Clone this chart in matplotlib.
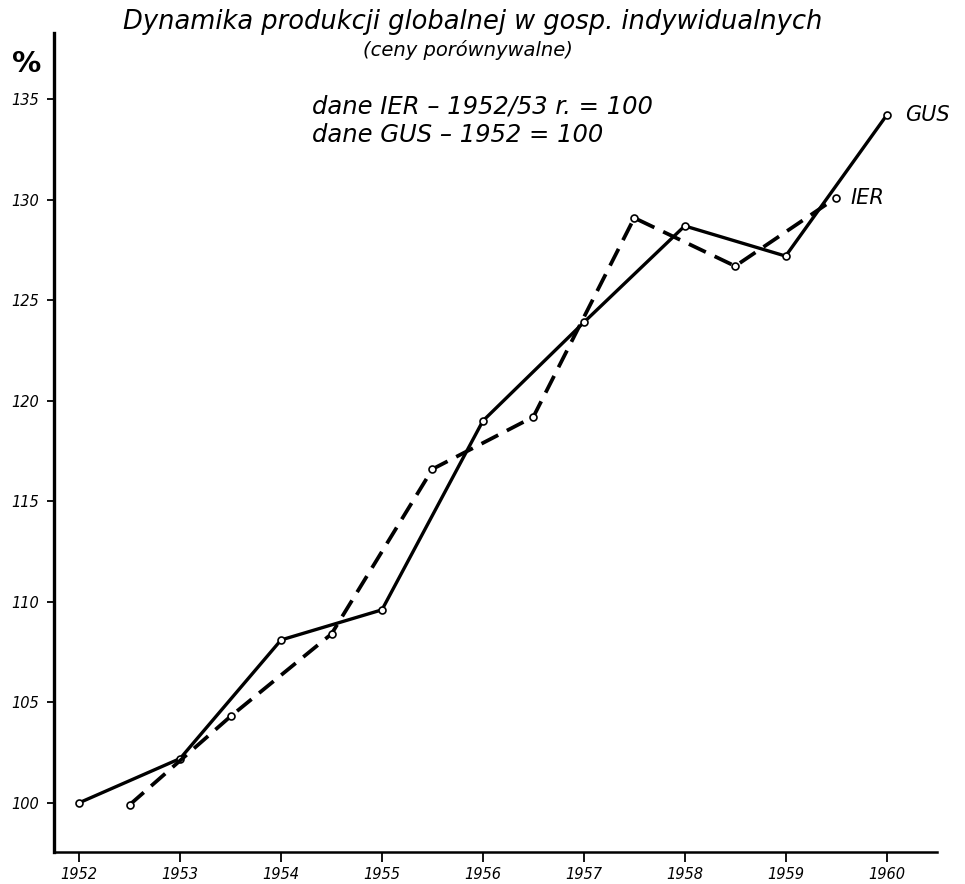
import matplotlib
matplotlib.use("Agg")
import matplotlib.pyplot as plt

# GUS: annual points, IER: mid-year points
gus_years = [1952, 1953, 1954, 1955, 1956, 1957, 1958, 1959, 1960]
gus_values = [100.0, 102.2, 108.1, 109.6, 119.0, 123.9, 128.7, 127.2, 134.2]

ier_years = [1952.5, 1953.5, 1954.5, 1955.5, 1956.5, 1957.5, 1958.5, 1959.5]
ier_values = [99.9, 104.3, 108.4, 116.6, 119.2, 129.1, 126.7, 130.1]

x_ticks = [1952, 1953, 1954, 1955, 1956, 1957, 1958, 1959, 1960]
y_ticks = [100, 105, 110, 115, 120, 125, 130, 135]

title = "Dynamika produkcji globalnej w gosp. indywidualnych"
subtitle = "(ceny porównywalne)"
note_ier = "dane IER – 1952/53 r. = 100"
note_gus = "dane GUS – 1952 = 100"

plt.rcParams['font.family'] = ['DejaVu Sans']

W, H = 965, 884
fig = plt.figure(figsize=(W / 100, H / 100), dpi=100)
ax = fig.add_axes([54 / W, (H - 852) / H, (937 - 54) / W, (852 - 33) / H])

ax.plot(gus_years, gus_values, color='black', lw=2.4, solid_capstyle='round',
        marker='o', ms=5, mfc='white', mec='black', mew=1.2, zorder=3)
ax.plot(ier_years, ier_values, color='black', lw=2.7, dashes=(5, 2.6),
        marker='o', ms=5, mfc='white', mec='black', mew=1.2, zorder=3)

ax.set_xlim(1951.75, 1960.5)
ax.set_ylim(97.55, 138.3)

for s in ['top', 'right']:
    ax.spines[s].set_visible(False)
ax.spines['left'].set_linewidth(2.4)
ax.spines['bottom'].set_linewidth(1.8)

ax.set_xticks(x_ticks)
ax.set_xticklabels([str(v) for v in x_ticks], fontstyle='italic', fontsize=10.5)
ax.set_yticks(y_ticks)
ax.set_yticklabels([str(v) for v in y_ticks], fontstyle='italic', fontsize=10.5)
ax.tick_params(axis='x', length=7, width=1.3, pad=4)
ax.tick_params(axis='y', length=5, width=1.3, pad=6)

# series labels at line ends
ax.annotate("GUS", xy=(gus_years[-1], gus_values[-1]), xytext=(13, 0),
            textcoords='offset points', fontstyle='italic', fontsize=15,
            va='center', ha='left')
ax.annotate("IER", xy=(ier_years[-1], ier_values[-1]), xytext=(10, 0),
            textcoords='offset points', fontstyle='italic', fontsize=15,
            va='center', ha='left')

fig.text(473 / W, 1 - 22 / H, title, fontstyle='italic', fontsize=18.5,
         ha='center', va='center')
fig.text(468 / W, 1 - 50 / H, subtitle, fontstyle='italic', fontsize=14,
         ha='center', va='center')
fig.text(312 / W, 1 - 107 / H, note_ier, fontstyle='italic', fontsize=17.5,
         ha='left', va='center')
fig.text(312 / W, 1 - 135 / H, note_gus, fontstyle='italic', fontsize=17.5,
         ha='left', va='center')
fig.text(27 / W, 1 - 64 / H, "%", fontsize=21, fontweight='bold',
         ha='center', va='center')

fig.savefig("out.png", dpi=100)
